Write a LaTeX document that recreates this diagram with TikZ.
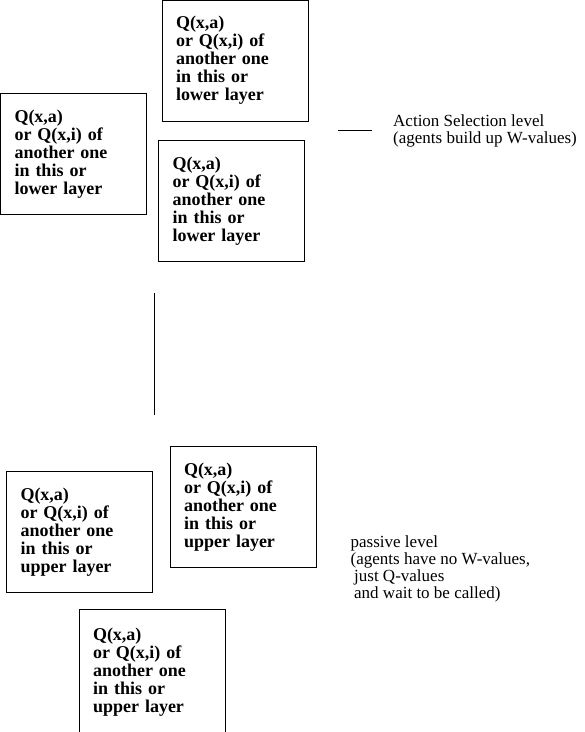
\documentclass[tikz,border=0pt]{standalone}
\usepackage{fontspec}
\setmainfont{Liberation Serif}
\begin{document}
\begin{tikzpicture}[x=1pt,y=-1pt,
 qbox/.style={draw, line width=0.8pt, inner xsep=14pt, inner ysep=0pt, text width=118pt,
   minimum height=121pt, align=left, font=\fontsize{18}{18}\selectfont\bfseries},
 lbl/.style={anchor=base west, inner sep=0pt, align=left, font=\fontsize{17}{17}\selectfont},
 rule/.style={line width=0.8pt}]
\useasboundingbox (0,0) rectangle (585,732);
% upper layer (action selection level)
\node[qbox] (a1) at (235,60.5) {Q(x,a)\\or Q(x,i) of\\another one\\in this or\\lower layer};
\node[qbox] (a2) at (73.5,154) {Q(x,a)\\or Q(x,i) of\\another one\\in this or\\lower layer};
\node[qbox] (a3) at (231.5,201) {Q(x,a)\\or Q(x,i) of\\another one\\in this or\\lower layer};
% lower layer (passive level)
\node[qbox] (p1) at (243,507) {Q(x,a)\\or Q(x,i) of\\another one\\in this or\\upper layer};
\node[qbox] (p2) at (79.5,532) {Q(x,a)\\or Q(x,i) of\\another one\\in this or\\upper layer};
\node[qbox, minimum height=126pt] (p3) at (152,672) {Q(x,a)\\or Q(x,i) of\\another one\\in this or\\upper layer};
% separator lines
\coordinate (v1) at (154,293);
\coordinate (v2) at (154,415);
\draw[rule] (v1) -- (v2);
\coordinate (h1) at (338,130);
\coordinate (h2) at (372,130);
\draw[rule] (h1) -- (h2);
% level labels (base anchor = baseline of last line)
\node[lbl] (as) at (393,143) {Action Selection level\\(agents build up W-values)};
\node[lbl] (pl) at (350.5,598) {passive level\\(agents have no W-values,\\\hspace*{3.5pt}just Q-values\\\hspace*{3.5pt}and wait to be called)};
\end{tikzpicture}
\end{document}
